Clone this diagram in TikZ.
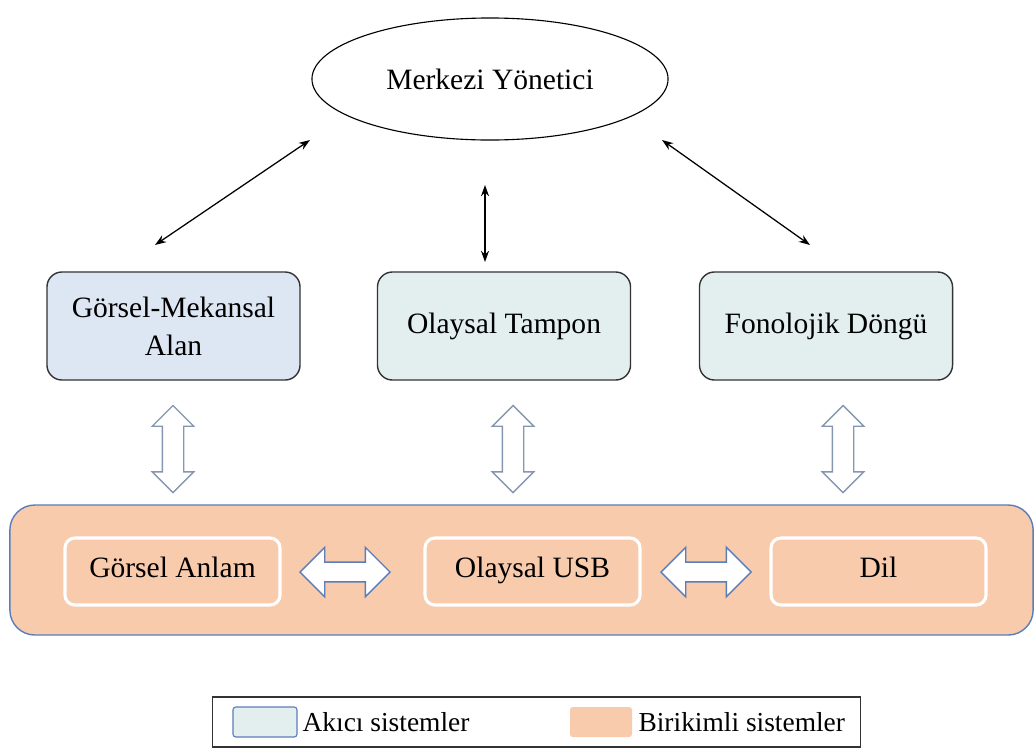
\documentclass[tikz,border=0pt]{standalone}
\usepackage{fontspec}
\setmainfont{Liberation Serif}
\usetikzlibrary{arrows.meta,shapes.geometric,shapes.arrows,positioning}
\definecolor{akici}{HTML}{E2EFEE}
\definecolor{gorsel}{HTML}{DDE6F3}
\definecolor{birikim}{HTML}{F8CBAD}
\definecolor{cerceve}{HTML}{5B7DB9}
\definecolor{okgri}{HTML}{8496B0}

\begin{document}
\begin{tikzpicture}[x=0.025cm,y=-0.025cm,
                    font=\fontsize{21}{27}\selectfont,
                    box/.style={rectangle,rounded corners=0.375cm,draw=black!80,line width=1pt,
                                minimum width=6.325cm,minimum height=2.7cm,align=center},
                    inner box/.style={rectangle,rounded corners=0.25cm,draw=white,line width=2.2pt,
                                      fill=birikim,minimum width=5.375cm,minimum height=1.675cm,
                                      text height=2.1ex,text depth=0.1ex},
                    vert arrow/.style={double arrow,draw=okgri,fill=white,line width=1pt,rotate=90,
                                       inner xsep=0pt,inner ysep=0.25cm,
                                       minimum height=2.175cm,double arrow head extend=0.25cm},
                    hor arrow/.style={double arrow,draw=cerceve,fill=white,line width=1pt,
                                      inner xsep=0pt,inner ysep=0.23cm,
                                      minimum height=2.25cm,double arrow head extend=0.37cm},
                    link/.style={{Stealth[length=0.28cm,width=0.2cm]}-{Stealth[length=0.28cm,width=0.2cm]},line width=0.9pt},
                    legend text/.style={font=\fontsize{19.5}{24}\selectfont,inner sep=0pt}]

  \useasboundingbox (0,0) rectangle (1036,751);

  \node[ellipse,draw,line width=0.8pt,minimum width=8.9cm,minimum height=3.05cm] (yon) at (490,79) {Merkezi Yönetici};

  \node[box,fill=gorsel] (gma) at (173.5,326) {Görsel-Mekansal\\Alan};
  \node[box,fill=akici] (ot) at (504,326) {Olaysal Tampon};
  \node[box,fill=akici] (fd) at (826,326) {Fonolojik Döngü};

  \coordinate (g1) at (310,140);
  \coordinate (g2) at (155,245);
  \coordinate (m1) at (485,185);
  \coordinate (m2) at (485,262);
  \coordinate (f1) at (662,140);
  \coordinate (f2) at (810,245);

  \path[link]
    (g1) edge (g2)
    (m1) edge (m2)
    (f1) edge (f2);

  \node[rectangle,rounded corners=0.625cm,draw=cerceve,fill=birikim,line width=1pt,
        minimum width=25.575cm,minimum height=3.25cm] (uzun) at (521.5,570) {};

  \node[vert arrow] (v1) at (173,449) {};
  \node[vert arrow] (v2) at (513,449) {};
  \node[vert arrow] (v3) at (843,449) {};

  \node[inner box] (ga) at (172.5,571.5) {Görsel Anlam};
  \node[inner box] (usb) at (532.5,571.5) {Olaysal USB};
  \node[inner box] (dil) at (878.5,571.5) {Dil};

  \node[hor arrow] (h1) at (345,572) {};
  \node[hor arrow] (h2) at (706,572) {};

  \node[draw=black!80,line width=0.8pt,minimum width=16.175cm,minimum height=1.25cm] (lgd) at (536.5,722) {};
  \node[draw=cerceve,fill=akici,rounded corners=2pt,line width=0.8pt,minimum width=1.6cm,minimum height=0.75cm] (sw1) at (265,722) {};
  \node[legend text,right=0.12cm of sw1] (lb1) {Akıcı sistemler};
  \node[fill=birikim,rounded corners=2pt,minimum width=1.55cm,minimum height=0.75cm] (sw2) at (601,722) {};
  \node[legend text,right=0.15cm of sw2] (lb2) {Birikimli sistemler};
\end{tikzpicture}
\end{document}
